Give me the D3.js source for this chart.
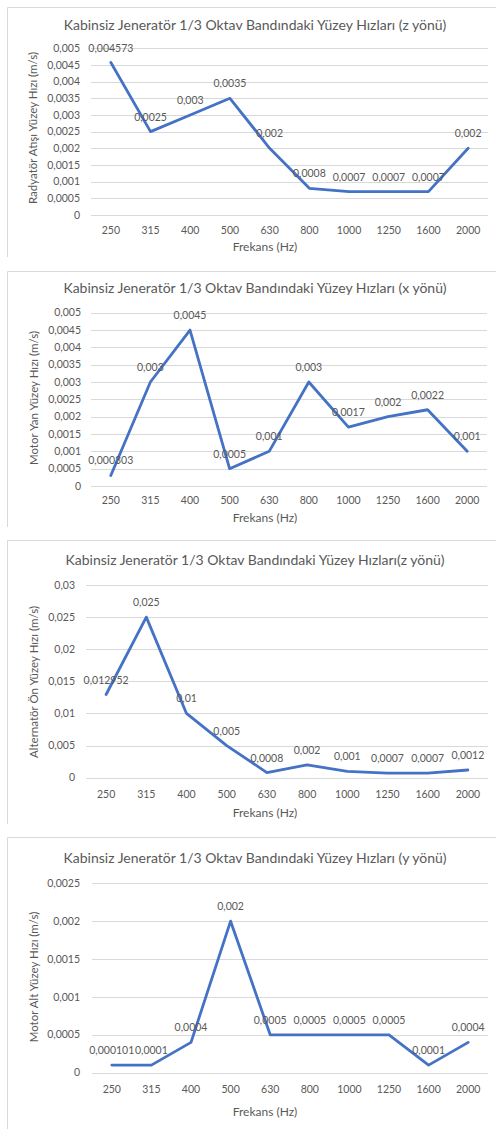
<!DOCTYPE html>
<html>
<head>
<meta charset="utf-8">
<script src="https://cdn.jsdelivr.net/npm/d3@7"></script>
<style>
body { margin: 0; background: #fff; }
text { font-family: Lato, "Open Sans", sans-serif; fill: #595959; }
</style>
</head>
<body>
<svg width="496" height="1129"></svg>
<script>
var svg = d3.select("svg");

// frequency bands (Hz)
var categories = ["250", "315", "400", "500", "630", "800", "1000", "1250", "1600", "2000"];

// surface velocities (m/s)
var radyatorZ = [0.004573, 0.0025, 0.003, 0.0035, 0.002, 0.0008, 0.0007, 0.0007, 0.0007, 0.002];
var motorYanX = [0.000303, 0.003, 0.0045, 0.0005, 0.001, 0.003, 0.0017, 0.002, 0.0022, 0.001];
var alternatorOnZ = [0.012952, 0.025, 0.01, 0.005, 0.0008, 0.002, 0.001, 0.0007, 0.0007, 0.0012];
var motorAltY = [0.000101, 0.0001, 0.0004, 0.002, 0.0005, 0.0005, 0.0005, 0.0005, 0.0001, 0.0004];

// y axis ticks
var ticksSmall = [0, 0.0005, 0.001, 0.0015, 0.002, 0.0025, 0.003, 0.0035, 0.004, 0.0045, 0.005];
var ticksAlt = [0, 0.005, 0.01, 0.015, 0.02, 0.025, 0.03];
var ticksY = [0, 0.0005, 0.001, 0.0015, 0.002, 0.0025];

var titles = [
  "Kabinsiz Jeneratör 1/3 Oktav Bandındaki Yüzey Hızları (z yönü)",
  "Kabinsiz Jeneratör 1/3 Oktav Bandındaki Yüzey Hızları (x yönü)",
  "Kabinsiz Jeneratör 1/3 Oktav Bandındaki Yüzey Hızları(z yönü)",
  "Kabinsiz Jeneratör 1/3 Oktav Bandındaki Yüzey Hızları (y yönü)"
];
var yTitles = [
  "Radyatör Atışı Yüzey Hızı (m/s)",
  "Motor Yan Yüzey Hızı (m/s)",
  "Alternatör Ön Yüzey Hızı (m/s)",
  "Motor Alt Yüzey Hızı (m/s)"
];
var xTitle = "Frekans (Hz)";

var comma = function(d) { return String(d).replace(".", ","); };

var panels = [
  {values: radyatorZ, ticks: ticksSmall, top: 7, bottom: 257, left: 91, right: 488,
   plotTop: 41.3, plotBottom: 208, titleY: 18, xLabY: 223, xTitleY: 240, yLabX: 80, yTitleX: 33, yTitleY: 121},
  {values: motorYanX, ticks: ticksSmall, top: 271, bottom: 527, left: 91, right: 487,
   plotTop: 41.7, plotBottom: 215, titleY: 17, xLabY: 229, xTitleY: 247, yLabX: 81, yTitleX: 34, yTitleY: 127},
  {values: alternatorOnZ, ticks: ticksAlt, top: 540, bottom: 824, left: 86, right: 488,
   plotTop: 45, plotBottom: 237.7, titleY: 20, xLabY: 254, xTitleY: 273, yLabX: 75, yTitleX: 34, yTitleY: 142},
  {values: motorAltY, ticks: ticksY, top: 837, bottom: 1135, left: 92, right: 488,
   plotTop: 46.3, plotBottom: 235.7, titleY: 21, xLabY: 252, xTitleY: 275, yLabX: 80, yTitleX: 34, yTitleY: 140}
];

panels.forEach(function(p, i) {
  var g = svg.append("g")
      .attr("transform", "translate(0," + p.top + ")");

  // chart frame (only top and left edges are visible)
  g.append("path")
      .attr("d", "M7.5," + (p.bottom - p.top) + "V0.5H496")
      .attr("fill", "none")
      .attr("stroke", "#d9d9d9");

  var x = d3.scalePoint()
      .domain(categories)
      .range([p.left, p.right])
      .padding(0.5);

  var y = d3.scaleLinear()
      .domain([0, d3.max(p.ticks)])
      .range([p.plotBottom, p.plotTop]);

  g.append("text")
      .attr("x", 255)
      .attr("y", p.titleY)
      .attr("dy", "0.35em")
      .attr("text-anchor", "middle")
      .attr("font-size", "14px")
      .text(titles[i]);

  g.append("g")
      .selectAll("line")
      .data(p.ticks)
      .enter().append("line")
      .attr("x1", p.left)
      .attr("x2", p.right)
      .attr("y1", function(d) { return Math.round(y(d)) + 0.5; })
      .attr("y2", function(d) { return Math.round(y(d)) + 0.5; })
      .attr("stroke", "#d9d9d9");

  g.append("g")
      .selectAll("text")
      .data(p.ticks)
      .enter().append("text")
      .attr("x", p.yLabX)
      .attr("y", function(d) { return y(d); })
      .attr("dy", "0.35em")
      .attr("text-anchor", "end")
      .attr("font-size", "10.5px")
      .text(comma);

  g.append("g")
      .selectAll("text")
      .data(categories)
      .enter().append("text")
      .attr("x", function(d) { return x(d); })
      .attr("y", p.xLabY)
      .attr("dy", "0.35em")
      .attr("text-anchor", "middle")
      .attr("font-size", "10.5px")
      .text(function(d) { return d; });

  g.append("text")
      .attr("x", 265)
      .attr("y", p.xTitleY)
      .attr("dy", "0.35em")
      .attr("text-anchor", "middle")
      .attr("font-size", "12px")
      .text(xTitle);

  g.append("text")
      .attr("transform", "translate(" + p.yTitleX + "," + p.yTitleY + ") rotate(-90)")
      .attr("dy", "0.35em")
      .attr("text-anchor", "middle")
      .attr("font-size", "11.5px")
      .text(yTitles[i]);

  var line = d3.line()
      .x(function(d, j) { return x(categories[j]); })
      .y(function(d) { return y(d); });

  g.append("path")
      .datum(p.values)
      .attr("d", line)
      .attr("fill", "none")
      .attr("stroke", "#4472c4")
      .attr("stroke-width", 2.8)
      .attr("stroke-linejoin", "round")
      .attr("stroke-linecap", "round");

  g.append("g")
      .selectAll("text")
      .data(p.values)
      .enter().append("text")
      .attr("x", function(d, j) { return x(categories[j]); })
      .attr("y", function(d) { return y(d) - 11; })
      .attr("text-anchor", "middle")
      .attr("font-size", "10.5px")
      .text(comma);
});
</script>
</body>
</html>
